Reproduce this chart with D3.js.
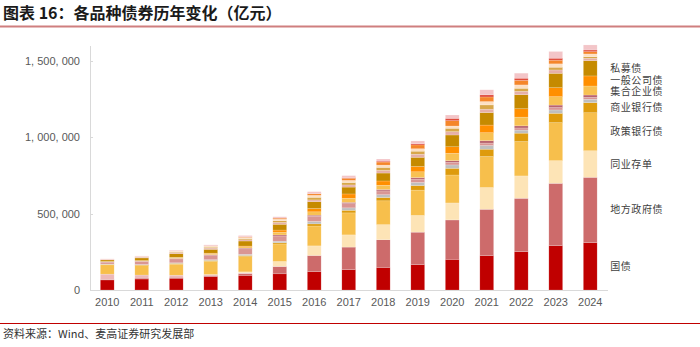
<!DOCTYPE html>
<html lang="zh">
  <head>
    <meta charset="utf-8" />
    <title>各品种债券历年变化</title>
    <style>
      body, html {
        margin: 0;
        padding: 0;
        background: #ffffff;
      }
      svg {
        display: block;
      }
      .axis text {
        font: 11px "Liberation Sans", Arial, sans-serif;
        fill: #595959;
      }
      .axis path,
      .axis line {
        fill: none;
        stroke: #d9d9d9;
        shape-rendering: crispEdges;
      }
      .lbl {
        font: 10px "Noto Sans CJK SC", sans-serif;
        letter-spacing: 0.6px;
        fill: #404040;
      }
    </style>
    <script src="https://d3js.org/d3.v7.min.js"></script>
  </head>
<body>
<svg width="700" height="347"></svg>
<script>

    // years on the x axis
    var years = ["2010", "2011", "2012", "2013", "2014", "2015", "2016", "2017",
                 "2018", "2019", "2020", "2021", "2022", "2023", "2024"];

    // series values, 亿元
    var guozhai      = [66000, 72000, 77000, 87000, 96000, 106000, 120000, 134000, 148000, 166000, 201000, 225000, 251000, 290000, 310000];
    var difang       = [4000, 6000, 6500, 8600, 11600, 48000, 106000, 147000, 181000, 213000, 258000, 304000, 350000, 409000, 428000];
    var yangpiao     = [34000, 20000, 13500, 5500, 4200, 600, 0, 0, 0, 200, 150, 150, 150, 150, 0];
    var cunDan       = [0, 0, 0, 300, 7000, 32000, 63000, 80000, 99000, 109000, 111000, 142000, 146000, 148000, 174000];
    var zhengce      = [61000, 62000, 72000, 86000, 100000, 115000, 130000, 144000, 156000, 166000, 183000, 203000, 225000, 249000, 249000];
    var shangye      = [3000, 4000, 5000, 6000, 7000, 8000, 14000, 17000, 22000, 30000, 44000, 48000, 55000, 61000, 66000];
    var ciji         = [2000, 3000, 4000, 5000, 8000, 10000, 16000, 16000, 18000, 20000, 22000, 24000, 20000, 22000, 22000];
    var qiye         = [12000, 20000, 26000, 30000, 36000, 34000, 33000, 28000, 25000, 22000, 17000, 16000, 14000, 16000, 13000];
    var zhengquan    = [2000, 2000, 3000, 3000, 5000, 7000, 8000, 8000, 9000, 10000, 11000, 16000, 14000, 16000, 15000];
    var jihe         = [3000, 4000, 6000, 7000, 8000, 18000, 22000, 27000, 28000, 38000, 48000, 52000, 57000, 55000, 59000];
    var gongsi       = [0, 0, 1000, 3000, 5000, 14000, 22000, 28000, 28000, 35000, 43000, 50000, 55000, 59000, 66000];
    var simu         = [10000, 17000, 24000, 25000, 33000, 38000, 44000, 45000, 52000, 60000, 77000, 82000, 92000, 94000, 100000];
    var duanrong     = [3000, 5000, 8000, 8000, 8000, 12000, 12000, 14000, 18000, 20000, 22000, 22000, 22000, 22000, 16000];
    var dingxiang    = [0, 1000, 4000, 6000, 8000, 11000, 17000, 16000, 19000, 20000, 22000, 28000, 20000, 18000, 10000];
    var zhichi       = [1000, 3000, 5000, 7000, 7000, 10000, 13000, 14000, 15000, 16000, 15000, 22000, 22000, 22000, 18000];
    var abs          = [0, 0, 1000, 1000, 3000, 7000, 10000, 14000, 20000, 25000, 35000, 30000, 30000, 24000, 15000];
    var kezhuan      = [1000, 1000, 1000, 2000, 2000, 1000, 2000, 4000, 6000, 8000, 15000, 14000, 14000, 13000, 11000];
    var qita         = [2000, 3000, 4000, 5000, 8000, 8000, 12000, 13000, 14000, 18000, 22000, 33000, 33000, 44000, 33000];

    var seriesNames = ["国债", "地方政府债", "央行票据", "同业存单", "政策银行债", "商业银行债",
                       "商业银行次级债券", "一般企业债", "证券公司债", "集合企业债", "一般公司债", "私募债",
                       "短期融资券", "定向工具", "政府支持机构债", "资产支持证券", "可转债", "其他"];
    var seriesValues = [guozhai, difang, yangpiao, cunDan, zhengce, shangye, ciji, qiye, zhengquan,
                        jihe, gongsi, simu, duanrong, dingxiang, zhichi, abs, kezhuan, qita];
    var colors = ["#c00000", "#cd6b6b", "#edb9b9", "#fde4b6", "#f7bf4c", "#de9b0c",
                  "#bfbfbf", "#d99694", "#b9646f", "#f8c152", "#ff8f00", "#c58a00",
                  "#e6b0a8", "#d8a74a", "#fde0c4", "#f5862a", "#e04b3c", "#f3c5c8"];

    // series that get a name label at the right
    var labelled = ["国债", "地方政府债", "同业存单", "政策银行债", "商业银行债", "集合企业债", "一般公司债", "私募债"];
    var yTicks = [0, 500000, 1000000, 1500000];

    // build table rows for d3.stack
    var table = years.map(function(y, i) {
        var row = { year: y };
        seriesNames.forEach(function(n, k) { row[n] = seriesValues[k][i]; });
        return row;
    });

    var svg = d3.select("svg");

    var plotL = 90, plotR = 607.5, plotT = 45.7, plotB = 290;

    var xScale = d3.scaleBand().domain(years).range([plotL, plotR]).paddingInner(0.6).paddingOuter(0.3),
        yScale = d3.scaleLinear().domain([0, 1600000]).range([plotB, plotT]);

    // title and the rule under it
    svg.append("text")
       .attr("x", 3)
       .attr("y", 19)
       .style("font", "bold 16px 'Noto Sans CJK SC', sans-serif")
       .style("fill", "#1a1a1a")
       .text("图表 16：各品种债券历年变化（亿元）");

    svg.append("line")
       .attr("x1", 0).attr("x2", 700)
       .attr("y1", 26.5).attr("y2", 26.5)
       .attr("stroke", "#cf7f7f")
       .attr("stroke-width", 2);

    // y axis
    svg.append("g")
       .attr("class", "axis")
       .attr("transform", "translate(" + plotL + ",0)")
       .call(d3.axisLeft(yScale).tickValues(yTicks).tickSize(-3).tickPadding(10)
             .tickFormat(function(d) { return d3.format(",")(d).replace(/,/g, ", "); }))
       .call(function(g) { g.select(".domain").attr("d", "M0.5," + plotT + "V" + (plotB + 0.5)); });

    // x axis
    svg.append("g")
       .attr("class", "axis")
       .attr("transform", "translate(0," + (plotB + 0.5) + ")")
       .call(d3.axisBottom(xScale).tickSize(0).tickPadding(8))
       .call(function(g) { g.select(".domain").attr("d", "M" + plotL + ",0H" + plotR); });

    // stacked bars
    var stack = d3.stack().keys(seriesNames)(table);

    svg.selectAll(".layer")
       .data(stack)
       .enter().append("g")
       .attr("class", "layer")
       .attr("fill", function(d, i) { return colors[i]; })
       .selectAll("rect")
       .data(function(d) { return d; })
       .enter().append("rect")
       .attr("x", function(d) { return xScale(d.data.year); })
       .attr("y", function(d) { return yScale(d[1]); })
       .attr("width", xScale.bandwidth())
       .attr("height", function(d) { return yScale(d[0]) - yScale(d[1]); })
       .attr("stroke", "#ffffff")
       .attr("stroke-opacity", 0.35)
       .attr("stroke-width", 0.5);

    // series names beside the last bar, at the middle of each segment,
    // pushed apart a little where two would touch
    var last = years.length - 1;
    var labels = stack.filter(function(s) { return labelled.indexOf(s.key) >= 0; })
        .map(function(s) { return { key: s.key, y: yScale((s[last][0] + s[last][1]) / 2) }; });
    var gap = 11;
    for (var k = 1; k < labels.length; k++) {
        var d = labels[k - 1].y - labels[k].y;
        if (d < gap) {
            labels[k - 1].y += (gap - d) / 2;
            labels[k].y -= (gap - d) / 2;
        }
    }

    svg.selectAll(".lbl")
       .data(labels)
       .enter().append("text")
       .attr("class", "lbl")
       .attr("x", xScale(years[last]) + xScale.bandwidth() + 13)
       .attr("y", function(l) { return l.y; })
       .attr("dy", "0.35em")
       .text(function(l) { return l.key; });

    // source line
    svg.append("line")
       .attr("x1", 0).attr("x2", 700)
       .attr("y1", 323.5).attr("y2", 323.5)
       .attr("stroke", "#c00000")
       .attr("stroke-width", 1);

    svg.append("text")
       .attr("x", 3)
       .attr("y", 338)
       .style("font", "11px 'Noto Sans CJK SC', sans-serif")
       .style("fill", "#333333")
       .text("资料来源：Wind、麦高证券研究发展部");

</script>
</body>
</html>
